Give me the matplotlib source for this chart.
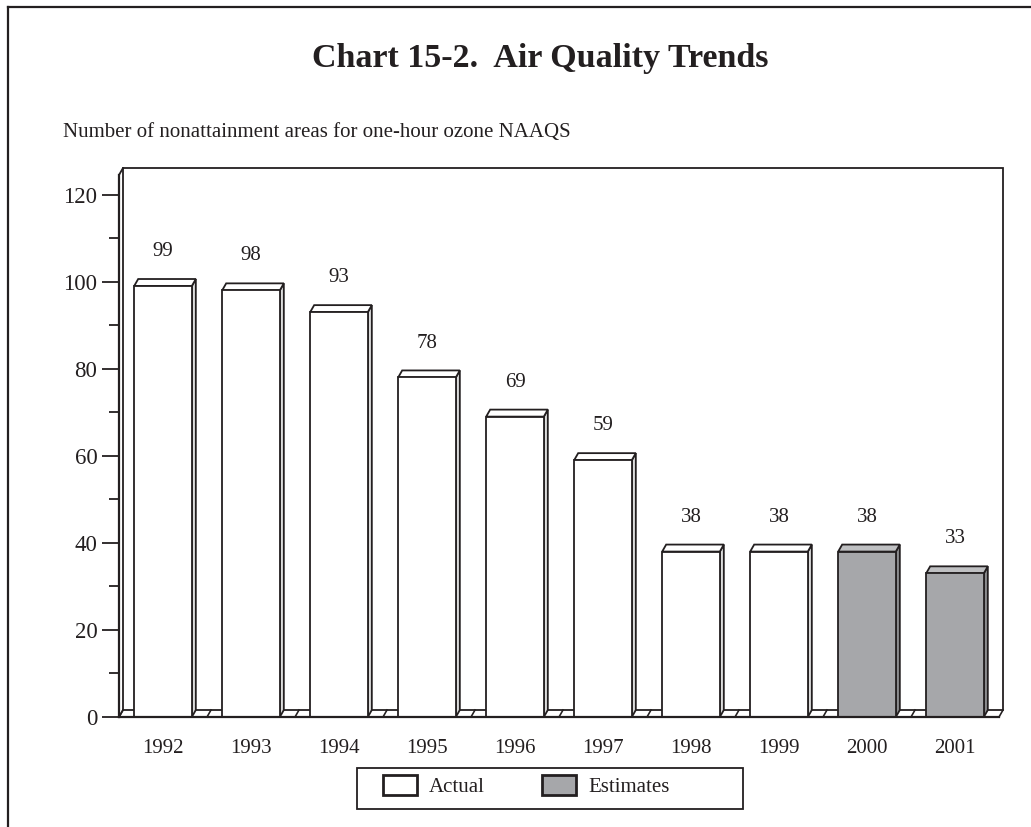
import matplotlib
matplotlib.use("Agg")
import matplotlib.pyplot as plt
from matplotlib.patches import Polygon, Rectangle, Patch
from matplotlib.lines import Line2D

years = ["1992", "1993", "1994", "1995", "1996", "1997", "1998", "1999", "2000", "2001"]
values = [99, 98, 93, 78, 69, 59, 38, 38, 38, 33]
is_estimate = [False] * 8 + [True] * 2
yticks = [0, 20, 40, 60, 80, 100, 120]
title = "Chart 15-2.  Air Quality Trends"
subtitle = "Number of nonattainment areas for one-hour ozone NAAQS"
legend_labels = ["Actual", "Estimates"]

TXT = "#231f20"
FONT = "Liberation Serif"
plt.rcParams["font.family"] = [FONT, "DejaVu Serif"]
plt.rcParams["text.color"] = TXT

W, H = 1031, 827
fig = plt.figure(figsize=(W / 100, H / 100), dpi=100)

YMAX = 124.5
ax = fig.add_axes([119 / W, (H - 717) / H, 880 / W, (717 - 175) / H])
ax.set_xlim(-0.5, 9.5)
ax.set_ylim(0, YMAX)
ax.patch.set_visible(False)

px_per_x = 88.0
px_per_y = (717 - 175) / YMAX
dx = 4 / px_per_x
dy = 7 / px_per_y
bw = 0.655
LW = 1.3

# back wall
wall = Polygon([(-0.5, 0), (-0.5 + dx, dy), (9.5 + dx, dy), (9.5 + dx, YMAX + dy),
                (-0.5 + dx, YMAX + dy), (-0.5, YMAX)], closed=True,
               facecolor="white", edgecolor=TXT, lw=LW, clip_on=False, zorder=1)
ax.add_patch(wall)
ax.plot([-0.5 + dx, -0.5 + dx], [dy, YMAX + dy], color=TXT, lw=LW, clip_on=False, zorder=1.5)
# floor boundary slants
for k in range(11):
    b = -0.5 + k
    ax.plot([b, b + dx], [0, dy], color=TXT, lw=LW * 0.9, clip_on=False, zorder=1.5)

# bars
for i, (v, est) in enumerate(zip(values, is_estimate)):
    if est:
        front, top, side = "#a6a7aa", "#bfc0c2", "#8b8c8f"
    else:
        front, top, side = "white", "white", "#dcdcdc"
    x0, x1 = i - bw / 2, i + bw / 2
    ax.add_patch(Polygon([(x1, 0), (x1 + dx, dy), (x1 + dx, v + dy), (x1, v)], closed=True,
                         facecolor=side, edgecolor=TXT, lw=LW, clip_on=False, zorder=3))
    ax.add_patch(Polygon([(x0, v), (x1, v), (x1 + dx, v + dy), (x0 + dx, v + dy)], closed=True,
                         facecolor=top, edgecolor=TXT, lw=LW, clip_on=False, zorder=3))
    ax.add_patch(Rectangle((x0, 0), bw, v, facecolor=front, edgecolor=TXT, lw=LW,
                           clip_on=False, zorder=4))
    ax.text(i, v + 7.9, str(v), ha="center", va="center", fontsize=15, color=TXT, zorder=5)

# axes styling
for s in ["top", "right"]:
    ax.spines[s].set_visible(False)
for s in ["left", "bottom"]:
    ax.spines[s].set_linewidth(1.6)
    ax.spines[s].set_color(TXT)
    ax.spines[s].set_zorder(6)
ax.set_yticks(yticks)
ax.set_yticklabels([str(t) for t in yticks], fontsize=16.5, color=TXT)
ax.set_yticks([t + 10 for t in yticks[:-1]], minor=True)
ax.tick_params(axis="y", which="major", direction="out", length=12, width=1.3, pad=3.5, colors=TXT)
ax.tick_params(axis="y", which="minor", direction="out", length=7, width=1.3, colors=TXT)
ax.set_xticks(range(len(years)))
ax.set_xticklabels(years, fontsize=15, color=TXT)
ax.tick_params(axis="x", length=0, pad=16)

# titles
fig.text(540 / W, (H - 67) / H, title, ha="center", va="baseline", fontsize=24.5,
         fontweight="bold", color=TXT)
fig.text(63 / W, (H - 136.7) / H, subtitle, ha="left", va="baseline", fontsize=15, color=TXT)

# legend
handles = [Patch(facecolor="white", edgecolor=TXT, lw=2),
           Patch(facecolor="#a6a7aa", edgecolor=TXT, lw=2)]
leg = fig.legend(handles, legend_labels, loc="center left", bbox_to_anchor=(383 / W, (H - 786) / H),
                 ncol=2, fontsize=15, frameon=False,
                 handlelength=1.63, handleheight=1.1, handletextpad=0.58, columnspacing=2.74,
                 borderpad=0, borderaxespad=0)
for t in leg.get_texts():
    t.set_color(TXT)
fig.add_artist(Rectangle((357 / W, (H - 809) / H), (743 - 357) / W, (809 - 768) / H,
                         transform=fig.transFigure, facecolor="none", edgecolor=TXT, lw=1.3))

# outer frame
fig.add_artist(Line2D([8 / W, 8 / W], [0, (H - 7) / H], color=TXT, lw=1.6, transform=fig.transFigure))
fig.add_artist(Line2D([8 / W, 1], [(H - 7) / H, (H - 7) / H], color=TXT, lw=1.6, transform=fig.transFigure))

fig.savefig("out.png", dpi=100)
